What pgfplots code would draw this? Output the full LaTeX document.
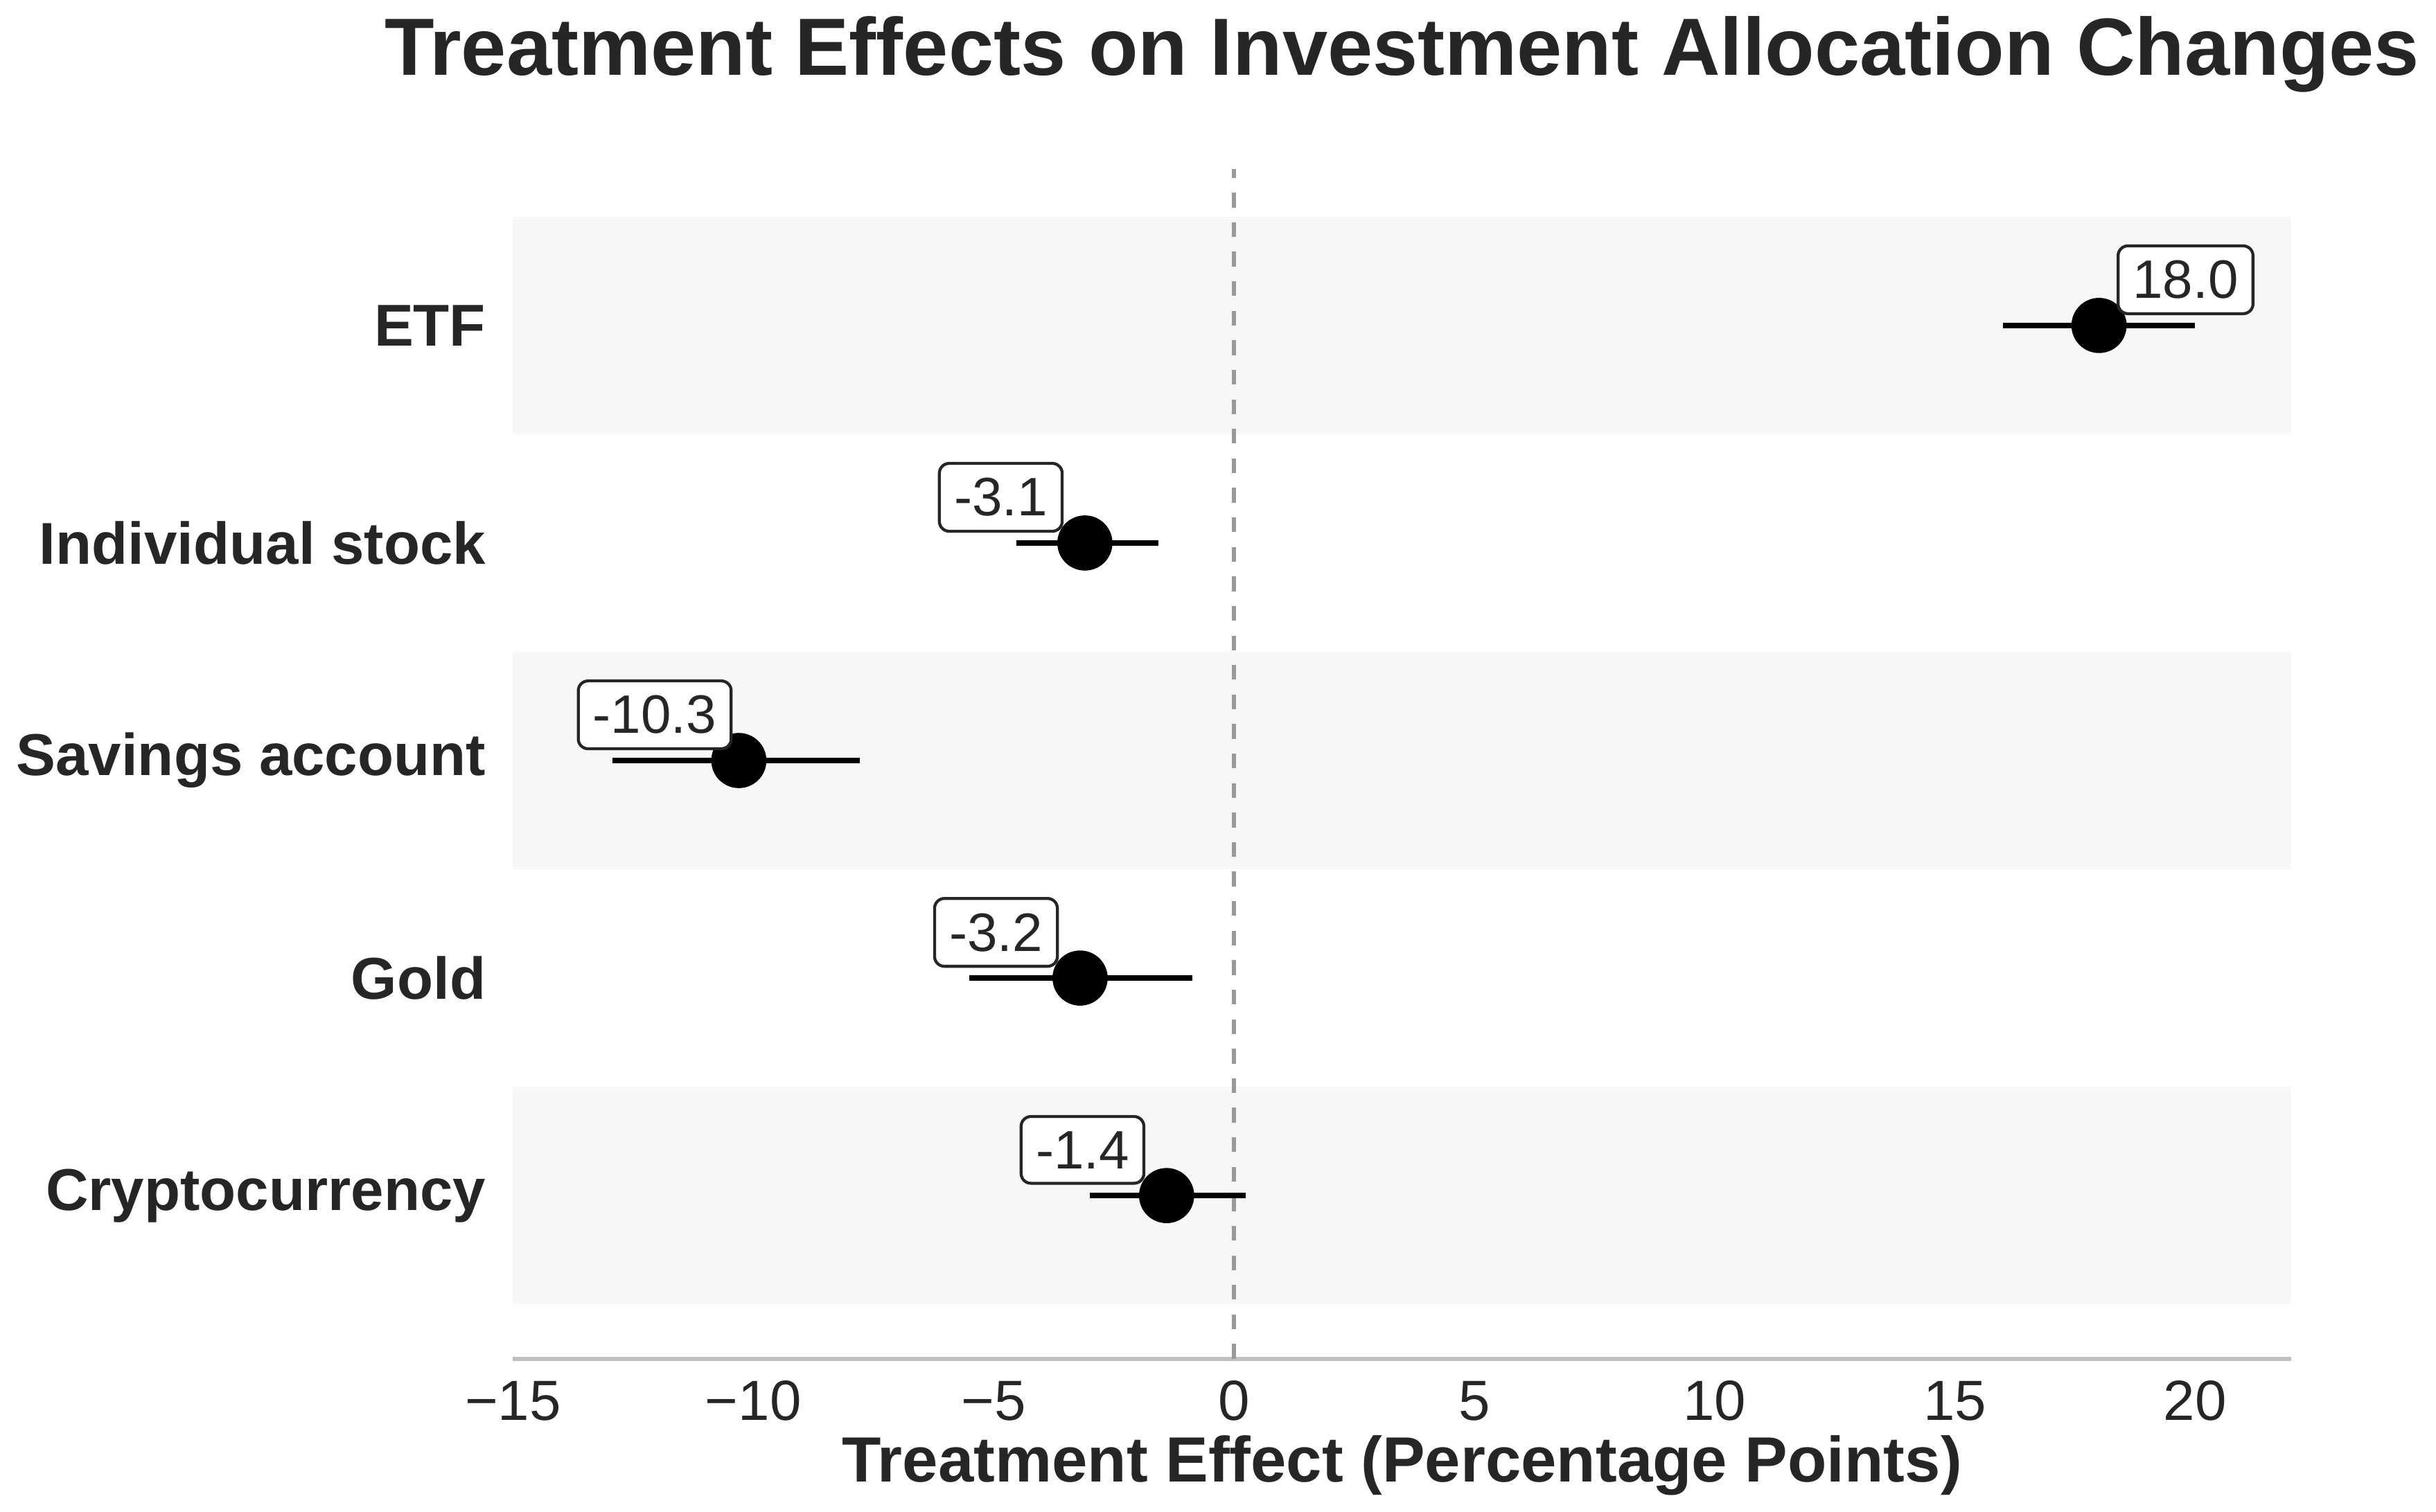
\documentclass[border=0pt]{standalone}
\usepackage{pgfplots}
\pgfplotsset{compat=1.18}
\usepackage{fontspec}
\setmainfont{Liberation Sans}
\definecolor{band}{HTML}{F7F7F7}
\definecolor{txt}{HTML}{262626}
\begin{document}
\begin{tikzpicture}
\begin{axis}[
  scale only axis, width=12.7cm, height=8.5cm,
  xmin=-15, xmax=22, ymin=-0.75, ymax=4.72,
  axis x line*=bottom, axis y line*=left,
  y axis line style={draw=none},
  x axis line style={draw=black!25, line width=0.8pt},
  xtick={-15,-10,...,20}, major tick length=0pt,
  xticklabels={−15,−10,−5,0,5,10,15,20},
  ytick={0,1,2,3,4},
  yticklabels={Cryptocurrency,Gold,Savings account,Individual stock,ETF},
  xticklabel style={font=\fontsize{11.5}{14}\selectfont, text=txt, yshift=-1pt},
  yticklabel style={font=\bfseries\fontsize{12}{14}\selectfont, text=txt, xshift=-2pt},
  xlabel={\bfseries Treatment Effect (Percentage Points)},
  xlabel style={font=\fontsize{13}{15}\selectfont, text=txt, yshift=4pt},
  title={\bfseries Treatment Effects on Investment Allocation Changes},
  title style={font=\fontsize{16.5}{20}\selectfont, text=txt, yshift=6pt},
  clip=false,
]
\addplot[fill=band, draw=none] coordinates {(-15,3.5)(22,3.5)(22,4.5)(-15,4.5)} -- cycle;
\addplot[fill=band, draw=none] coordinates {(-15,1.5)(22,1.5)(22,2.5)(-15,2.5)} -- cycle;
\addplot[fill=band, draw=none] coordinates {(-15,-0.5)(22,-0.5)(22,0.5)(-15,0.5)} -- cycle;
\addplot[gray!80, dashed, line width=0.9pt] coordinates {(0,-0.75)(0,4.72)};
\addplot[only marks, mark=*, mark size=0.19cm, black,
  error bars/.cd, x dir=both, x explicit, error mark=none,
  error bar style={line width=1.2pt, black}]
  table[x=x, y=y, x error plus=ep, x error minus=em] {
  x y ep em
  18.0 4 2.0 2.0
  -3.1 3 1.53 1.42
  -10.3 2 2.51 2.63
  -3.2 1 2.33 2.31
  -1.4 0 1.64 1.6
  };
\addplot[only marks, mark=none, nodes near coords, point meta=explicit symbolic,
  nodes near coords align=center,
  nodes near coords style={draw=txt, fill=white, rounded corners=2pt, inner sep=3pt,
    font=\fontsize{11}{13}\selectfont, text=txt, anchor=center, line width=0.6pt}]
  coordinates {(19.8,4.21)[18.0] (-4.85,3.21)[-3.1] (-12.05,2.21)[-10.3] (-4.95,1.21)[-3.2] (-3.15,0.21)[-1.4]};
\end{axis}
\end{tikzpicture}
\end{document}
